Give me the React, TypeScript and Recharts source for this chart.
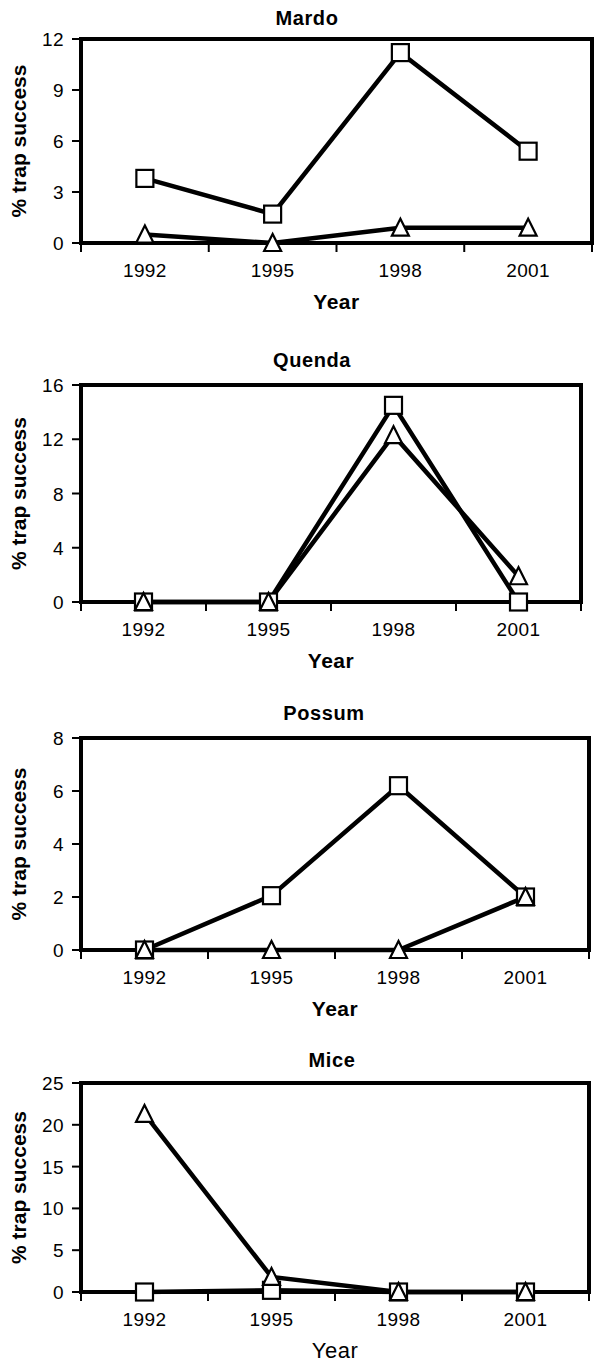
import React from 'react';
import { LineChart, Line, XAxis, YAxis, ReferenceArea } from 'recharts';

const FONT = '"Liberation Sans", Arial, Helvetica, sans-serif';

// ---- data ----
const years = ['1992', '1995', '1998', '2001'];

const mardoSquare = [3.8, 1.7, 11.2, 5.4];
const mardoTriangle = [0.5, 0, 0.9, 0.9];
const mardoTicks = [0, 3, 6, 9, 12];

const quendaSquare = [0, 0, 14.5, 0];
const quendaTriangle = [0, 0, 12.3, 1.9];
const quendaTicks = [0, 4, 8, 12, 16];

const possumSquare = [0, 2.05, 6.2, 2.0];
const possumTriangle = [0, 0, 0, 2.0];
const possumTicks = [0, 2, 4, 6, 8];

const miceSquare = [0, 0.2, 0, 0];
const miceTriangle = [21.3, 1.8, 0, 0];
const miceTicks = [0, 5, 10, 15, 20, 25];

const xTickValues = [-0.5, 0, 0.5, 1, 1.5, 2, 2.5, 3, 3.5];

const buildRows = (sq: number[], tri: number[]) =>
  years.map((y, i) => ({ x: i, year: y, sq: sq[i], tri: tri[i] }));

// ---- layout ----
const panels = [
  { title: 'Mardo', sq: mardoSquare, tri: mardoTriangle, ticks: mardoTicks, plotTop: 39, plotBottom: 243, right: 592, titleX: 307, titleY: 18, yearBold: true },
  { title: 'Quenda', sq: quendaSquare, tri: quendaTriangle, ticks: quendaTicks, plotTop: 385, plotBottom: 602, right: 581, titleX: 312, titleY: 360, yearBold: true },
  { title: 'Possum', sq: possumSquare, tri: possumTriangle, ticks: possumTicks, plotTop: 738, plotBottom: 950, right: 589, titleX: 324, titleY: 713, yearBold: true },
  { title: 'Mice', sq: miceSquare, tri: miceTriangle, ticks: miceTicks, plotTop: 1083, plotBottom: 1292, right: 589, titleX: 332, titleY: 1060, yearBold: false },
];

const PLOT_LEFT = 81;
const TOP_PAD = 12;
const X_AXIS_H = 70;

const SquareDot = (props: any) => {
  const { cx, cy, index } = props;
  if (cx == null || cy == null) return <g key={`s${index}`} />;
  return (
    <rect key={`s${index}`} x={cx - 8.5} y={cy - 8.5} width={17} height={17} fill="#fff" stroke="#000" strokeWidth={2.2} />
  );
};

const TriangleDot = (props: any) => {
  const { cx, cy, index } = props;
  if (cx == null || cy == null) return <g key={`t${index}`} />;
  const pts = `${cx},${cy - 9} ${cx - 8.5},${cy + 8} ${cx + 8.5},${cy + 8}`;
  return <polygon key={`t${index}`} points={pts} fill="#fff" stroke="#000" strokeWidth={2.2} strokeLinejoin="miter" />;
};

const XTick = (props: any) => {
  const { x, y, payload } = props;
  const v = Number(payload.value);
  if (Number.isInteger(v)) {
    return (
      <text x={x} y={y + 34} textAnchor="middle" fontSize={19} letterSpacing={0.4} fill="#000" fontFamily={FONT}>
        {years[v]}
      </text>
    );
  }
  return <line x1={x} x2={x} y1={y} y2={y + 9} stroke="#000" strokeWidth={2} />;
};

const YTick = (props: any) => {
  const { x, y, payload } = props;
  return (
    <g>
      <line x1={x - 9} x2={x} y1={y} y2={y} stroke="#000" strokeWidth={2} />
      <text x={x - 17} y={y + 7} textAnchor="end" fontSize={19} letterSpacing={0.4} fill="#000" fontFamily={FONT}>
        {payload.value}
      </text>
    </g>
  );
};

const Panel = ({ p }: { p: (typeof panels)[number] }) => {
  const data = buildRows(p.sq, p.tri);
  const plotH = p.plotBottom - p.plotTop;
  const height = plotH + TOP_PAD + X_AXIS_H;
  const top = p.plotTop - TOP_PAD;
  const yMax = p.ticks[p.ticks.length - 1];
  const cyLabel = TOP_PAD + plotH / 2;
  const plotCx = (PLOT_LEFT + p.right) / 2;
  return (
    <>
      <div
        style={{
          position: 'absolute',
          left: p.titleX - 100,
          width: 200,
          top: p.titleY - 12,
          lineHeight: '24px',
          textAlign: 'center',
          fontFamily: FONT,
          fontWeight: 'bold',
          fontSize: 20,
          letterSpacing: '0.6px',
          color: '#000',
        }}
      >
        {p.title}
      </div>
      <div style={{ position: 'absolute', left: 0, top }}>
        <LineChart
          width={594}
          height={height}
          data={data}
          margin={{ top: TOP_PAD, right: 594 - p.right, bottom: 0, left: 0 }}
        >
          <XAxis
            dataKey="x"
            type="number"
            domain={[-0.5, 3.5]}
            ticks={xTickValues}
            interval={0}
            height={X_AXIS_H}
            axisLine={false}
            tickLine={false}
            tickSize={0}
            tickMargin={0}
            tick={XTick}
            label={() => (
              <text
                x={plotCx}
                y={TOP_PAD + plotH + 66}
                textAnchor="middle"
                fontFamily={FONT}
                fontWeight={p.yearBold ? 'bold' : 'normal'}
                fontSize={p.yearBold ? 21 : 22}
                letterSpacing={0.5}
                fill="#000"
              >
                Year
              </text>
            )}
          />
          <YAxis
            type="number"
            domain={[0, yMax]}
            ticks={p.ticks}
            interval={0}
            width={PLOT_LEFT}
            axisLine={false}
            tickLine={false}
            tickSize={0}
            tickMargin={0}
            tick={YTick}
            label={() => (
              <text
                x={26}
                y={cyLabel}
                transform={`rotate(-90, 26, ${cyLabel})`}
                textAnchor="middle"
                fontFamily={FONT}
                fontWeight="bold"
                fontSize={21}
                fill="#000"
              >
                % trap success
              </text>
            )}
          />
          <ReferenceArea
            x1={-0.5}
            x2={3.5}
            y1={0}
            y2={yMax}
            fill="none"
            fillOpacity={0}
            stroke="#000"
            strokeWidth={4}
            strokeOpacity={1}
            ifOverflow="visible"
          />
          <Line
            type="linear"
            dataKey="sq"
            stroke="#000"
            strokeWidth={4.5}
            dot={SquareDot}
            activeDot={false}
            isAnimationActive={false}
          />
          <Line
            type="linear"
            dataKey="tri"
            stroke="#000"
            strokeWidth={4.5}
            dot={TriangleDot}
            activeDot={false}
            isAnimationActive={false}
          />
        </LineChart>
      </div>
    </>
  );
};

export default function App() {
  return (
    <div style={{ position: 'absolute', left: 0, top: 0, width: 594, height: 1362, background: '#fff', overflow: 'hidden' }}>
      {panels.map((p) => (
        <Panel key={p.title} p={p} />
      ))}
    </div>
  );
}
